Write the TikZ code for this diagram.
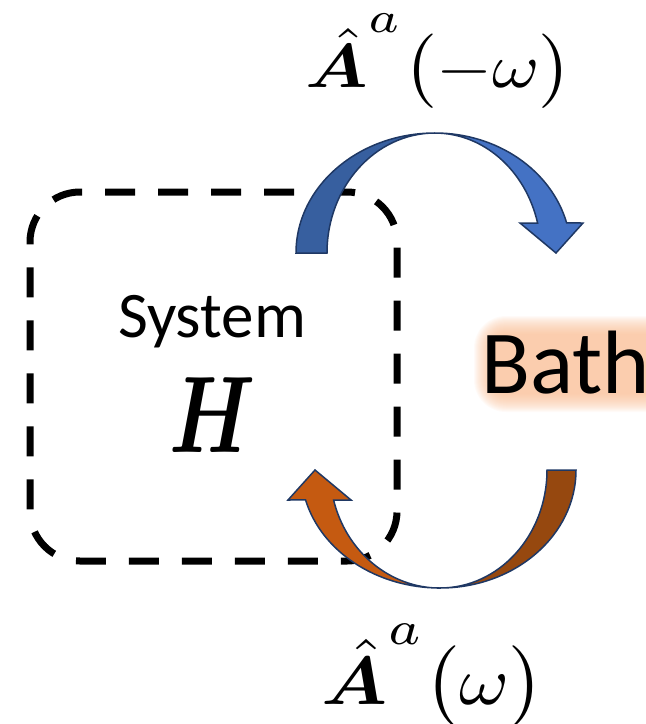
\documentclass[tikz,border=0pt]{standalone}
\usepackage{bm}
\usepackage{fontspec}
\newfontfamily\calibri{Carlito}
\definecolor{bluedark}{HTML}{375F9F}
\definecolor{bluelight}{HTML}{4472C4}
\definecolor{orlight}{HTML}{C55A11}
\definecolor{ordark}{HTML}{96480F}
\definecolor{edgec}{HTML}{1F3864}
\definecolor{glowc}{HTML}{F9BB90}
\newcommand{\supa}{\raisebox{1.7pt}{$\scriptstyle a$}}
\tikzset{
  arrowpart/.style={draw=edgec, line width=1.5pt, line join=miter},
  sysframe/.style={draw=black, line width=7pt, dash pattern=on 30pt off 23pt, rounded corners=50pt, inner sep=0pt, minimum width=367pt, minimum height=369pt},
  lbl/.style={inner sep=0pt, anchor=base}
}
\begin{document}
\begin{tikzpicture}[x=1pt,y=-1pt]
\useasboundingbox (0,0) rectangle (646,724);
\clip (0,0) rectangle (646,724);
% glow behind Bath
\foreach \i [evaluate=\i as \r using 14+\i] in {0,...,18}
  \fill[glowc, opacity=0.065, rounded corners=\r pt] ({492-\i},{334-\i}) rectangle ({665+\i},{394+\i});
% system frame
\node[sysframe] (sysbox) at (213.5,376.5) {};
% blue arrow (top)
\fill[bluedark, arrowpart] (296,253) arc[start angle=180, end angle=270, x radius=139, y radius=120]
  arc[start angle=270, end angle=180, x radius=108, y radius=120] -- cycle;
\fill[bluelight, arrowpart] (435,133) arc[start angle=270, end angle=345.5, x radius=136, y radius=120]
  -- (583,223) -- (556,253) -- (520,223) -- (537.6,223)
  arc[start angle=345.5, end angle=270, x radius=106, y radius=120] -- cycle;
% orange arrow (bottom)
\fill[ordark, arrowpart] (576,470) arc[start angle=0, end angle=90, x radius=136, y radius=118]
  arc[start angle=90, end angle=0, x radius=107, y radius=118] -- cycle;
\fill[orlight, arrowpart] (440,588) arc[start angle=90, end angle=165.3, x radius=139, y radius=118]
  -- (288,500) -- (315,470) -- (351,500) -- (333.6,500)
  arc[start angle=165.3, end angle=90, x radius=110, y radius=118] -- cycle;
% labels
\node[lbl] (sys) at (212,337) {\calibri\fontsize{65}{70}\selectfont System};
\node[lbl, xscale=8.1, yscale=10.9] (ham) at (213,452) {$\bm{H}$};
\node[lbl, anchor=base west] (bath) at (481,393) {\calibri\fontsize{90}{95}\selectfont Bath};
\node[lbl, xscale=7.2, yscale=6.2] (topl) at (439,87) {${\hat{\bm{A}}{}}^{\supa}\bigl(-\omega\bigr)$};
\node[lbl, xscale=7.6, yscale=6.8] (botl) at (433,704) {${\hat{\bm{A}}{}}^{\supa}\bigl(\omega\bigr)$};
\end{tikzpicture}
\end{document}
